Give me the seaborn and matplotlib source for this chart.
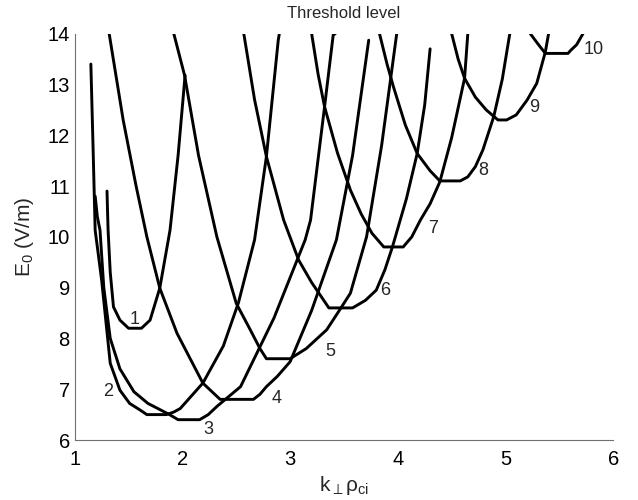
import numpy as np
import pandas as pd
import matplotlib
matplotlib.use("Agg")
import matplotlib.pyplot as plt
import seaborn as sns

# curve points (x = k_perp rho_ci, y = E0 in V/m)
c1_x = [1.30, 1.305, 1.31, 1.33, 1.36, 1.42, 1.50, 1.62, 1.70, 1.79, 1.885, 1.96, 2.025]
c1_y = [10.9, 10.5, 10.13, 9.3, 8.62, 8.36, 8.2, 8.2, 8.36, 8.99, 10.13, 11.6, 13.18]
c2_x = [1.15, 1.17, 1.19, 1.25, 1.33, 1.42, 1.51, 1.60, 1.67, 1.85, 1.92, 1.98, 2.19,
        2.38, 2.52, 2.67, 2.78, 2.89, 2.90]
c2_y = [13.4, 11.8, 10.13, 9.15, 7.51, 6.98, 6.72, 6.6, 6.5, 6.5, 6.55, 6.62, 7.12,
        7.85, 8.7, 9.94, 11.58, 13.87, 14.0]
c3_x = [1.19, 1.21, 1.235, 1.27, 1.33, 1.42, 1.55, 1.68, 1.79, 1.88, 1.96, 2.16, 2.24,
        2.32, 2.54, 2.85, 3.14, 3.19, 3.32, 3.40, 3.42]
c3_y = [10.8, 10.4, 10.13, 9.0, 8.0, 7.4, 6.95, 6.72, 6.6, 6.5, 6.4, 6.4, 6.5,
        6.66, 7.05, 8.4, 9.94, 10.33, 12.56, 13.97, 14.0]
c4_x = [1.32, 1.45, 1.57, 1.67, 1.79, 1.95, 2.19, 2.35, 2.66, 2.72, 2.78, 2.88, 3.0,
        3.2, 3.43, 3.58, 3.73]
c4_y = [14.0, 12.3, 11.0, 10.0, 8.99, 8.1, 7.12, 6.8, 6.8, 6.9, 7.05, 7.25, 7.54,
        8.55, 9.94, 11.6, 13.87]
c5_x = [1.92, 2.02, 2.15, 2.32, 2.50, 2.63, 2.72, 2.78, 3.0, 3.15, 3.34, 3.46, 3.56,
        3.71, 3.85, 3.99]
c5_y = [14.0, 13.18, 11.6, 10.0, 8.69, 8.17, 7.8, 7.6, 7.6, 7.8, 8.17, 8.56, 8.89,
        10.0, 11.8, 14.0]
c6_x = [2.57, 2.67, 2.78, 2.94, 3.08, 3.20, 3.29, 3.36, 3.58, 3.70, 3.80, 3.88, 3.95,
        4.08, 4.18, 4.25, 4.30]
c6_y = [14.0, 12.7, 11.58, 10.33, 9.54, 9.1, 8.82, 8.6, 8.6, 8.75, 8.95, 9.35, 9.8,
        10.75, 11.64, 12.6, 13.7]
c7_x = [3.20, 3.26, 3.32, 3.44, 3.56, 3.66, 3.76, 3.87, 4.05, 4.13, 4.21, 4.30, 4.39,
        4.50, 4.62, 4.65]
c7_y = [14.0, 13.2, 12.56, 11.65, 10.92, 10.45, 10.07, 9.8, 9.8, 10.0, 10.33, 10.65, 11.08,
        11.95, 13.12, 14.0]
c8_x = [3.83, 3.90, 3.96, 4.07, 4.18, 4.30, 4.39, 4.58, 4.65, 4.72, 4.79, 4.89, 4.97, 5.04]
c8_y = [14.0, 13.4, 12.95, 12.2, 11.64, 11.3, 11.1, 11.1, 11.18, 11.38, 11.71, 12.36, 13.1, 14.0]
c9_x = [4.50, 4.56, 4.62, 4.72, 4.82, 4.93, 5.01, 5.10, 5.20, 5.29, 5.37, 5.40]
c9_y = [14.0, 13.5, 13.12, 12.75, 12.5, 12.3, 12.3, 12.4, 12.69, 13.02, 13.64, 14.0]
c10_x = [5.23, 5.30, 5.37, 5.58, 5.61, 5.66, 5.72]
c10_y = [14.0, 13.8, 13.61, 13.61, 13.68, 13.78, 14.0]

labels = ["1", "2", "3", "4", "5", "6", "7", "8", "9", "10"]
label_x = [1.56, 1.31, 2.24, 2.876, 3.37, 3.88, 4.33, 4.79, 5.27, 5.82]
label_y = [8.38, 6.95, 6.20, 6.82, 7.74, 8.95, 10.17, 11.30, 12.55, 13.68]

curves = [(c1_x, c1_y), (c2_x, c2_y), (c3_x, c3_y), (c4_x, c4_y), (c5_x, c5_y),
          (c6_x, c6_y), (c7_x, c7_y), (c8_x, c8_y), (c9_x, c9_y), (c10_x, c10_y)]
frames = []
for i, (cx, cy) in enumerate(curves):
    frames.append(pd.DataFrame({"k": cx, "E": cy, "curve": i}))
df = pd.concat(frames, ignore_index=True)

sns.set_style("white")
plt.rcParams["font.family"] = ["Liberation Sans", "DejaVu Sans"]
plt.rcParams["mathtext.fontset"] = "custom"
plt.rcParams["mathtext.rm"] = "Liberation Sans"
plt.rcParams["mathtext.it"] = "Liberation Sans:italic"
plt.rcParams["mathtext.fallback"] = "stixsans"

fig = plt.figure(figsize=(6.38, 5.0), dpi=100)
ax = fig.add_axes([74.7 / 638, 60 / 500, 538.5 / 638, 406.4 / 500])
for i in range(len(curves)):
    sub = df[df["curve"] == i]
    sns.lineplot(data=sub, x="k", y="E", sort=False, estimator=None, color="black",
                 linewidth=2.1, ax=ax, legend=False)
for t, lx, ly in zip(labels, label_x, label_y):
    ax.text(lx, ly, t, fontsize=13, ha="center", va="center")

ax.set_xlim(1, 6)
ax.set_ylim(6, 14)
ax.set_xticks([1, 2, 3, 4, 5, 6])
ax.set_yticks(range(6, 15))
ax.tick_params(direction="in", length=4, labelsize=14.5, colors="black", width=0.8)
ax.tick_params(axis="x", pad=7)
for s in ["top", "right"]:
    ax.spines[s].set_visible(False)
for s in ["left", "bottom"]:
    ax.spines[s].set_color("#707070")
ax.set_xlabel("k$_{\\perp}$ρ$_{\\mathrm{ci}}$", fontsize=15, labelpad=4)
ax.set_ylabel("E$_{\\mathrm{0}}$ (V/m)", fontsize=15, labelpad=8)
ax.set_title("Threshold level", fontsize=12, pad=11)
fig.savefig("out.png", dpi=100)
